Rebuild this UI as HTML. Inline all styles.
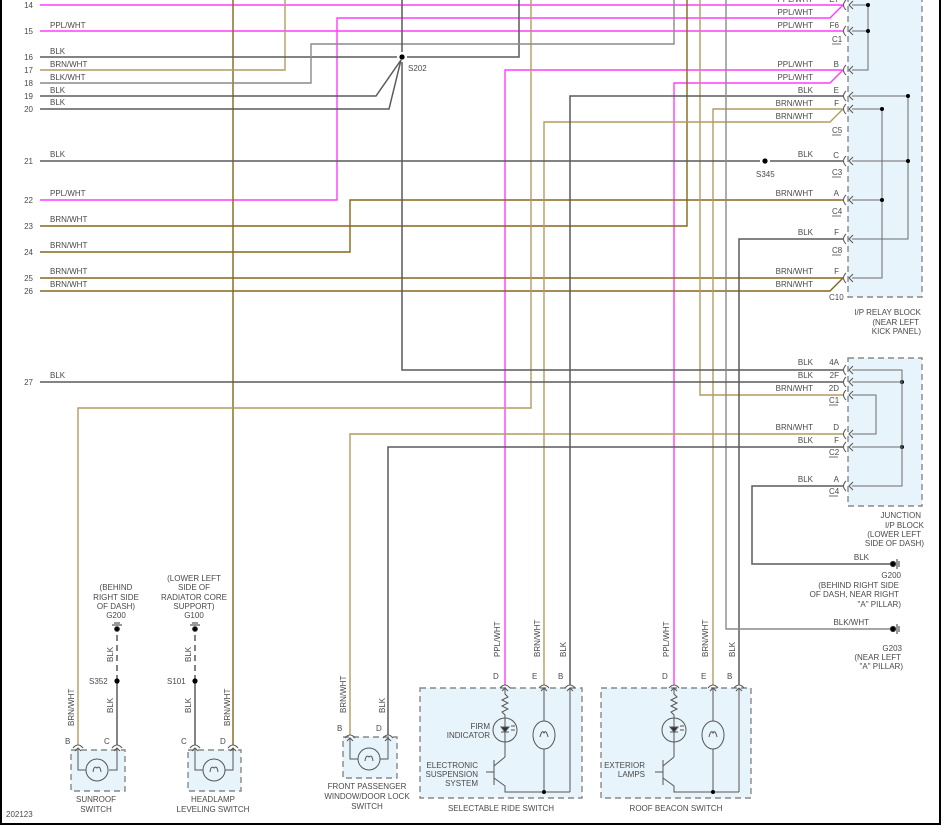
<!DOCTYPE html>
<html><head><meta charset="utf-8"><style>
html,body{margin:0;padding:0;background:#fff;}
svg{display:block;}
text{font-family:"Liberation Sans",sans-serif;font-size:8px;fill:#4a4a4a;}
.p{stroke:#ff3dff;stroke-width:1.4;fill:none}
.b{stroke:#86661a;stroke-width:1.4;fill:none}
.t{stroke:#b39b62;stroke-width:1.4;fill:none}
.g{stroke:#5a5a5a;stroke-width:1.5;fill:none}
.lg{stroke:#8a8a8a;stroke-width:1.4;fill:none}
.i{stroke:#6a6a6a;stroke-width:1;fill:none}
.box{fill:#e8f4fb;stroke:#888;stroke-width:1.4;stroke-dasharray:6,4}
.c{stroke:#555;stroke-width:1;fill:none}
.r{text-anchor:end}
.m{text-anchor:middle}
</style></head><body>
<svg width="947" height="836" viewBox="0 0 947 836" xmlns="http://www.w3.org/2000/svg">
<rect x="0" y="0" width="947" height="836" fill="#fff"/>
<rect class="box" x="848" y="-10" width="74" height="307"/>
<rect class="box" x="848" y="358" width="74" height="148"/>
<rect class="box" x="71" y="750" width="54" height="41"/>
<rect class="box" x="188" y="750" width="53" height="41"/>
<rect class="box" x="343" y="737" width="54" height="41"/>
<rect class="box" x="420" y="688" width="162" height="110"/>
<rect class="box" x="601" y="688" width="150" height="110"/>

<path class="p" d="M40 5H843"/>
<path class="p" d="M40 31H843"/>
<path class="p" d="M40 200H337V18H830L843 5"/>
<path class="p" d="M505 685V70H843"/>
<path class="p" d="M674 685V83H830L843 70"/>
<path class="b" d="M233 745V0"/>
<path class="t" d="M40 70H285V0"/>
<path class="b" d="M40 226H687V0"/>
<path class="b" d="M40 252H350V200H843"/>
<path class="b" d="M40 278H843"/>
<path class="b" d="M40 291H830L843 278"/>
<path class="t" d="M78 745V408H531V0"/>
<path class="t" d="M544 685V122H830L843 109"/>
<path class="t" d="M713 685V109H843"/>
<path class="t" d="M700 0V395H843"/>
<path class="t" d="M350 735V434H843"/>
<path class="g" d="M40 57H397M407 57H519V0"/>
<path class="g" d="M40 96H376L401 60"/>
<path class="g" d="M40 109H389L401 60"/>
<path class="lg" d="M40 83H311V44H674V0"/>
<path class="g" d="M402 0V52M402 62V370H843"/>
<path class="g" d="M40 161H760M770 161H843"/>
<path class="g" d="M570 685V96H843"/>
<path class="g" d="M739 685V239H843"/>
<path class="lg" d="M726 0V629H890"/>
<path class="g" d="M40 382H843"/>
<path class="g" d="M388 735V447H843"/>
<path class="g" d="M843 486H752V564H890"/>
<path class="g" d="M117 745V681"/>
<path class="g" d="M117 681V630" stroke-dasharray="6,4"/>
<path class="g" d="M195 745V681"/>
<path class="g" d="M195 681V630" stroke-dasharray="6,4"/>

<circle cx="402" cy="57" r="2.6" fill="#000"/>
<circle cx="765" cy="161" r="2.6" fill="#000"/>
<circle cx="117" cy="681" r="2.6" fill="#000"/>
<circle cx="195" cy="681" r="2.6" fill="#000"/>

<path class="i" d="M852 5H868V70H852M852 31H868M852 109H882V278H852M852 200H882M852 96H908V239H852M852 161H908"/>
<g fill="#000"><circle cx="868" cy="5" r="2"/><circle cx="868" cy="31" r="2"/><circle cx="882" cy="109" r="2"/><circle cx="882" cy="200" r="2"/><circle cx="908" cy="96" r="2"/><circle cx="908" cy="161" r="2"/><circle cx="902" cy="382" r="2"/><circle cx="902" cy="447" r="2"/></g>
<path class="i" d="M852 370H902V486H852M852 382H902M852 447H902M852 395H876V434H852"/>

<g class="c">
<path d="M846 0Q841 5 846 10M853 1L849 5L853 9"/>
<path d="M846 26Q841 31 846 36M853 27L849 31L853 35"/>
<path d="M846 65Q841 70 846 75M853 66L849 70L853 74"/>
<path d="M846 91Q841 96 846 101M853 92L849 96L853 100"/>
<path d="M846 104Q841 109 846 114M853 105L849 109L853 113"/>
<path d="M846 156Q841 161 846 166M853 157L849 161L853 165"/>
<path d="M846 195Q841 200 846 205M853 196L849 200L853 204"/>
<path d="M846 234Q841 239 846 244M853 235L849 239L853 243"/>
<path d="M846 273Q841 278 846 283M853 274L849 278L853 282"/>
<path d="M846 365Q841 370 846 375M853 366L849 370L853 374"/>
<path d="M846 377Q841 382 846 387M853 378L849 382L853 386"/>
<path d="M846 390Q841 395 846 400M853 391L849 395L853 399"/>
<path d="M846 429Q841 434 846 439M853 430L849 434L853 438"/>
<path d="M846 442Q841 447 846 452M853 443L849 447L853 451"/>
<path d="M846 481Q841 486 846 491M853 482L849 486L853 490"/>
</g>
<g class="c">
<path d="M73 748Q78 742 83 748M75 751L78 748L81 751M78 748V770H86"/>
<path d="M112 748Q117 742 122 748M114 751L117 748L120 751M117 748V770H109"/>
<path d="M190 748Q195 742 200 748M192 751L195 748L198 751M195 748V770H203"/>
<path d="M228 748Q233 742 238 748M230 751L233 748L236 751M233 748V770H225"/>
<path d="M345 738Q350 732 355 738M347 741L350 738L353 741M350 738V759H358"/>
<path d="M383 738Q388 732 393 738M385 741L388 738L391 741M388 738V759H380"/>
<path d="M500 688Q505 682 510 688M502 691L505 688L508 691"/>
<path d="M539 688Q544 682 549 688M541 691L544 688L547 691"/>
<path d="M565 688Q570 682 575 688M567 691L570 688L573 691"/>
<path d="M669 688Q674 682 679 688M671 691L674 688L677 691"/>
<path d="M708 688Q713 682 718 688M710 691L713 688L716 691"/>
<path d="M734 688Q739 682 744 688M736 691L739 688L742 691"/>
</g>
<g class="c" stroke-width="1.1">
<circle cx="97" cy="770" r="11"/><path d="M93 772Q94 765 97 768Q100 765 101 772"/>
<circle cx="214" cy="770" r="11"/><path d="M210 772Q211 765 214 768Q217 765 218 772"/>
<circle cx="369" cy="759" r="11"/><path d="M365 761Q366 754 369 757Q372 754 373 761"/>
</g>
<g class="c" stroke-width="1.1">
<path d="M505 688V694L508 697L502 700L508 703L502 706L508 709L502 712L505 715V757"/>
<circle cx="505" cy="730" r="12" fill="none"/>
<path d="M501 727H509L505 732Z" fill="#333"/><path d="M501 732H509M511 726l4 0M511 730l4 0"/>
<path d="M505 757L494 766M494 760V785M494 778L505 786V792H570M486 772H494"/>
<path d="M544 688V792M570 688V792"/>
<ellipse cx="544" cy="735" rx="11" ry="14" fill="#e8f4fb"/>
<path d="M540 737Q542 729 544 733Q546 729 548 737"/>
<path d="M674 688V694L677 697L671 700L677 703L671 706L677 709L671 712L674 715V757"/>
<circle cx="674" cy="730" r="12" fill="none"/>
<path d="M670 727H678L674 732Z" fill="#333"/><path d="M670 732H678M680 726l4 0M680 730l4 0"/>
<path d="M674 757L663 766M663 760V785M663 778L674 786V792H739M655 772H663"/>
<path d="M713 688V792M739 688V792"/>
<ellipse cx="713" cy="735" rx="11" ry="14" fill="#e8f4fb"/>
<path d="M709 737Q711 729 713 733Q715 729 717 737"/>
</g>
<circle cx="544" cy="792" r="2" fill="#000"/><circle cx="713" cy="792" r="2" fill="#000"/>
<g fill="#000" stroke="#333">
<circle cx="117" cy="629" r="2.4"/><path d="M112 625H122M114 623H120" stroke-width="1"/>
<circle cx="195" cy="629" r="2.4"/><path d="M190 625H200M192 623H198" stroke-width="1"/>
<circle cx="893" cy="564" r="2.6"/><path d="M897 559V569M899 561V567" stroke-width="1"/>
<circle cx="893" cy="629" r="2.6"/><path d="M897 624V634M899 626V632" stroke-width="1"/>
</g>
<path d="M1 0V824H940V0" stroke="#000" stroke-width="2" fill="none"/>

<g class="r">
<text x="33" y="8">14</text><text x="33" y="34">15</text><text x="33" y="60">16</text><text x="33" y="73">17</text><text x="33" y="86">18</text><text x="33" y="99">19</text><text x="33" y="112">20</text><text x="33" y="164">21</text><text x="33" y="203">22</text><text x="33" y="229">23</text><text x="33" y="255">24</text><text x="33" y="281">25</text><text x="33" y="294">26</text><text x="33" y="385">27</text>
</g>
<text x="50" y="-1">PPL/WHT</text>
<text x="50" y="28">PPL/WHT</text>
<text x="50" y="54">BLK</text><text x="50" y="67">BRN/WHT</text><text x="50" y="80">BLK/WHT</text><text x="50" y="93">BLK</text><text x="50" y="105">BLK</text>
<text x="50" y="157">BLK</text><text x="50" y="196">PPL/WHT</text><text x="50" y="222">BRN/WHT</text><text x="50" y="248">BRN/WHT</text><text x="50" y="274">BRN/WHT</text><text x="50" y="287">BRN/WHT</text>
<text x="50" y="378">BLK</text>
<text x="408" y="71">S202</text>
<text x="756" y="177">S345</text>

<g class="r">
<text x="813" y="2">PPL/WHT</text><text x="813" y="15">PPL/WHT</text><text x="813" y="28">PPL/WHT</text>
<text x="813" y="67">PPL/WHT</text><text x="813" y="80">PPL/WHT</text><text x="813" y="93">BLK</text><text x="813" y="106">BRN/WHT</text><text x="813" y="119">BRN/WHT</text>
<text x="813" y="157">BLK</text><text x="813" y="196">BRN/WHT</text><text x="813" y="235">BLK</text><text x="813" y="274">BRN/WHT</text><text x="813" y="287">BRN/WHT</text>
<text x="813" y="365">BLK</text><text x="813" y="378">BLK</text><text x="813" y="391">BRN/WHT</text><text x="813" y="430">BRN/WHT</text><text x="813" y="443">BLK</text><text x="813" y="482">BLK</text>
<text x="839" y="2">E7</text><text x="839" y="28">F6</text><text x="839" y="67">B</text><text x="839" y="93">E</text><text x="839" y="106">F</text><text x="839" y="158">C</text><text x="839" y="196">A</text><text x="839" y="235">F</text><text x="839" y="274">F</text>
<text x="839" y="365">4A</text><text x="839" y="378">2F</text><text x="839" y="391">2D</text><text x="839" y="430">D</text><text x="839" y="443">F</text><text x="839" y="482">A</text>
</g>
<g>
<text x="832" y="42">C1</text><text x="832" y="133">C5</text><text x="832" y="175">C3</text><text x="832" y="214">C4</text><text x="832" y="253">C8</text><text x="829" y="300">C10</text>
<text x="829" y="403">C1</text><text x="829" y="455">C2</text><text x="829" y="494">C4</text>
</g>
<path d="M832 44H841M832 135H841M832 177H841M832 216H841M832 255H841M829 405H838M829 457H838M829 496H838" stroke="#444" stroke-width="0.8"/>

<g class="r">
<text x="921" y="315">I/P RELAY BLOCK</text><text x="919" y="325">(NEAR LEFT</text><text x="921" y="334">KICK PANEL)</text>
<text x="921" y="518">JUNCTION</text><text x="924" y="528">I/P BLOCK</text><text x="921" y="537">(LOWER LEFT</text><text x="924" y="546">SIDE OF DASH)</text>
<text x="869" y="560">BLK</text>
<text x="901" y="578">G200</text><text x="899" y="588">(BEHIND RIGHT SIDE</text><text x="899" y="597">OF DASH, NEAR RIGHT</text><text x="901" y="607">"A" PILLAR)</text>
<text x="869" y="625">BLK/WHT</text>
<text x="902" y="651">G203</text><text x="901" y="660">(NEAR LEFT</text><text x="903" y="669">"A" PILLAR)</text>
</g>

<g class="m">
<text x="116" y="590">(BEHIND</text><text x="116" y="600">RIGHT SIDE</text><text x="116" y="609">OF DASH)</text><text x="116" y="618">G200</text>
<text x="194" y="581">(LOWER LEFT</text><text x="194" y="590">SIDE OF</text><text x="194" y="600">RADIATOR CORE</text><text x="194" y="609">SUPPORT)</text><text x="194" y="618">G100</text>
<text x="96" y="802">SUNROOF</text><text x="96" y="812">SWITCH</text>
<text x="213" y="802">HEADLAMP</text><text x="213" y="812">LEVELING SWITCH</text>
<text x="367" y="789">FRONT PASSENGER</text><text x="367" y="799">WINDOW/DOOR LOCK</text><text x="367" y="809">SWITCH</text>
<text x="501" y="811">SELECTABLE RIDE SWITCH</text>
<text x="676" y="811">ROOF BEACON SWITCH</text>
</g>
<text x="89" y="684">S352</text><text x="167" y="684">S101</text>
<text x="6" y="817">202123</text>
<text x="65" y="744">B</text><text x="104" y="744">C</text><text x="181" y="744">C</text><text x="220" y="744">D</text>
<text x="337" y="731">B</text><text x="376" y="731">D</text>
<text x="493" y="679">D</text><text x="532" y="679">E</text><text x="558" y="679">B</text>
<text x="662" y="679">D</text><text x="701" y="679">E</text><text x="727" y="679">B</text>
<g class="r">
<text x="490" y="729">FIRM</text><text x="490" y="738">INDICATOR</text>
<text x="478" y="768">ELECTRONIC</text><text x="478" y="777">SUSPENSION</text><text x="478" y="786">SYSTEM</text>
<text x="645" y="768">EXTERIOR</text><text x="645" y="777">LAMPS</text>
</g>
<g>
<text transform="translate(74,726) rotate(-90)">BRN/WHT</text>
<text transform="translate(113,662) rotate(-90)">BLK</text>
<text transform="translate(113,713) rotate(-90)">BLK</text>
<text transform="translate(191,662) rotate(-90)">BLK</text>
<text transform="translate(191,713) rotate(-90)">BLK</text>
<text transform="translate(230,726) rotate(-90)">BRN/WHT</text>
<text transform="translate(346,713) rotate(-90)">BRN/WHT</text>
<text transform="translate(385,713) rotate(-90)">BLK</text>
<text transform="translate(500,657) rotate(-90)">PPL/WHT</text>
<text transform="translate(540,657) rotate(-90)">BRN/WHT</text>
<text transform="translate(566,657) rotate(-90)">BLK</text>
<text transform="translate(669,657) rotate(-90)">PPL/WHT</text>
<text transform="translate(708,657) rotate(-90)">BRN/WHT</text>
<text transform="translate(735,657) rotate(-90)">BLK</text>
</g>
</svg>
</body></html>
